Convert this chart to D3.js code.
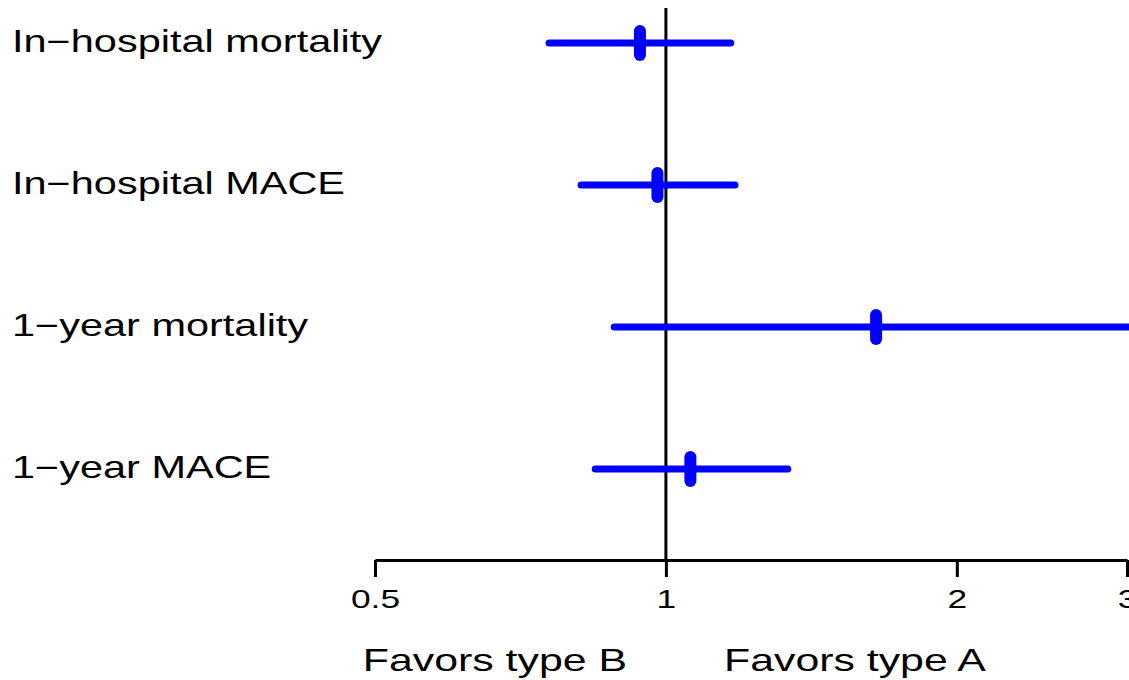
<!DOCTYPE html>
<html>
<head>
<meta charset="utf-8">
<script src="https://cdn.jsdelivr.net/npm/d3@7"></script>
<style>
  html, body { margin: 0; padding: 0; background: #fff; }
  svg { display: block; }
  text { font-family: "Liberation Sans", Arial, Helvetica, sans-serif; fill: #000; }
</style>
</head>
<body>
<svg id="chart" width="1129" height="680"></svg>
<script>
// Outcomes (top to bottom) with ratio estimates and confidence limits
const outcomes = ["In\u2212hospital mortality", "In\u2212hospital MACE", "1\u2212year mortality", "1\u2212year MACE"];
const estimate = [0.94, 0.98, 1.65, 1.06];
const lower    = [0.757, 0.817, 0.884, 0.845];
const upper    = [1.167, 1.179, 3.6, 1.337];
const tickValues = [0.5, 1, 2, 3];
const tickLabels = ["0.5", "1", "2", "3"];
const favorLabels = ["Favors type B", "Favors type A"];

const svg = d3.select("#chart");
const W = 1129, H = 680;
const stretch = 1.36;   // horizontal text widening

const x = d3.scaleLog().base(2).domain([0.5, 3]).range([375, 1127]);
const y = d3.scalePoint().domain(outcomes).range([43, 469]);
const axisY = 560;

// reference line at ratio 1
svg.append("line")
  .attr("x1", x(1)).attr("x2", x(1))
  .attr("y1", 8).attr("y2", axisY)
  .attr("stroke", "#000").attr("stroke-width", 3);

// x axis
const axis = d3.axisBottom(x)
  .tickValues(tickValues)
  .tickFormat((d, i) => tickLabels[i])
  .tickSize(17)
  .tickSizeOuter(0);

const gAxis = svg.append("g").attr("transform", `translate(0,${axisY})`).call(axis);
gAxis.select(".domain").attr("stroke", "#000").attr("stroke-width", 3);
gAxis.selectAll(".tick line").attr("stroke", "#000").attr("stroke-width", 3);
gAxis.selectAll(".tick text")
  .attr("y", 0).attr("dy", 0)
  .attr("font-size", 26)
  .attr("font-family", "'Liberation Sans', Arial, sans-serif")
  .attr("fill", "#000")
  .attr("transform", d => `translate(0,48) scale(${stretch},1)`)
  .attr("x", 0);

// outcome labels
svg.append("g").selectAll("text")
  .data(outcomes)
  .join("text")
  .attr("transform", d => `translate(12,${y(d) + 9}) scale(${stretch},1)`)
  .attr("font-size", 30.5)
  .text(d => d);

// confidence intervals
const rows = outcomes.map((o, i) => ({ o, est: estimate[i], lo: lower[i], hi: upper[i] }));
const g = svg.append("g");
g.selectAll("line.ci")
  .data(rows)
  .join("line")
  .attr("class", "ci")
  .attr("x1", d => x(d.lo)).attr("x2", d => x(d.hi))
  .attr("y1", d => y(d.o)).attr("y2", d => y(d.o))
  .attr("stroke", "#0000ff").attr("stroke-width", 7)
  .attr("stroke-linecap", "round");

// point estimates
g.selectAll("line.est")
  .data(rows)
  .join("line")
  .attr("class", "est")
  .attr("x1", d => x(d.est)).attr("x2", d => x(d.est))
  .attr("y1", d => y(d.o) - 12).attr("y2", d => y(d.o) + 12)
  .attr("stroke", "#0000ff").attr("stroke-width", 12)
  .attr("stroke-linecap", "round");

// direction labels beneath the axis
const favorX = [x(1) - 171, x(1) + 189];
svg.append("g").selectAll("text")
  .data(favorLabels)
  .join("text")
  .attr("transform", (d, i) => `translate(${favorX[i]},671) scale(${stretch},1)`)
  .attr("text-anchor", "middle")
  .attr("font-size", 31.5)
  .text(d => d);
</script>
</body>
</html>
